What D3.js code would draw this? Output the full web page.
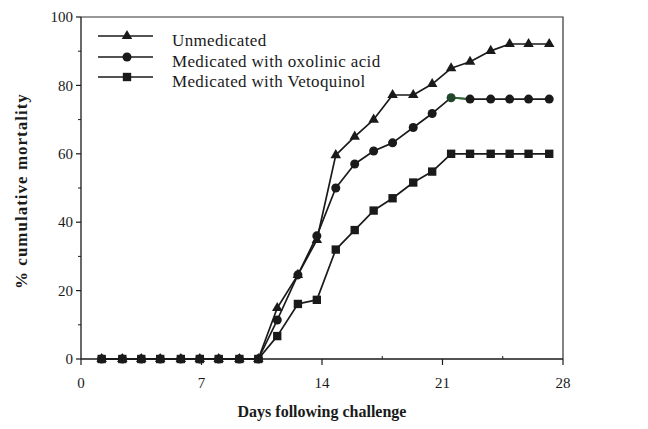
<!DOCTYPE html>
<html>
<head>
<meta charset="utf-8">
<script src="https://cdn.jsdelivr.net/npm/d3@7"></script>
<style>
  body { margin: 0; background: #fff; }
  svg { display: block; }
  text { font-family: "Liberation Serif", "Times New Roman", serif; fill: #1a1a1a; }
</style>
</head>
<body>
<svg id="chart" width="648" height="429"></svg>
<script>
// days at which each point was plotted
var days = [1.2, 2.4, 3.5, 4.6, 5.8, 6.9, 8.0, 9.2, 10.3, 11.4, 12.6, 13.7,
            14.8, 15.9, 17.0, 18.1, 19.3, 20.4, 21.5, 22.6, 23.8, 24.9, 26.0, 27.2];

var unmedicated = [0, 0, 0, 0, 0, 0, 0, 0, 0, 14.9, 24.6, 34.8,
                   59.6, 65, 70, 77.2, 77.2, 80.4, 85, 86.9, 90.1, 92.1, 92.1, 92.1];
var oxolinic = [0, 0, 0, 0, 0, 0, 0, 0, 0, 11.4, 24.6, 36,
                50, 57, 60.8, 63.2, 67.7, 71.8, 76.4, 76, 76, 76, 76, 76];
var vetoquinol = [0, 0, 0, 0, 0, 0, 0, 0, 0, 6.7, 16.1, 17.3,
                  32, 37.7, 43.4, 47, 51.6, 54.8, 60, 60, 60, 60, 60, 60];

var xTicks = [0, 7, 14, 21, 28];
var yTicks = [0, 20, 40, 60, 80, 100];

var seriesNames = ["Unmedicated", "Medicated with oxolinic acid", "Medicated with Vetoquinol"];
var seriesValues = [unmedicated, oxolinic, vetoquinol];
var seriesSymbols = [d3.symbolTriangle, d3.symbolCircle, d3.symbolSquare];
var symbolSizes = [48, 64, 70];

var svg = d3.select("#chart");

var x = d3.scaleLinear().domain([0, 28]).range([81, 563]);
var y = d3.scaleLinear().domain([0, 100]).range([359, 17]);

var ink = "#1a1a1a";

// frame (top and right edges)
svg.append("path")
    .attr("d", "M" + x(0) + "," + y(100) + "H" + x(28) + "V" + y(0))
    .attr("fill", "none")
    .attr("stroke", "#333")
    .attr("stroke-width", 1.2);

// y axis
var yAxis = svg.append("g").attr("transform", "translate(" + x(0) + ",0)");
yAxis.append("line").attr("y1", y(0)).attr("y2", y(100)).attr("stroke", ink).attr("stroke-width", 1.3);
yAxis.selectAll(".minor")
    .data(d3.range(10, 100, 20))
    .enter().append("line")
    .attr("x1", -3).attr("x2", 0)
    .attr("y1", d => y(d)).attr("y2", d => y(d))
    .attr("stroke", ink);
yAxis.selectAll(".major")
    .data(yTicks)
    .enter().append("line")
    .attr("x1", -5).attr("x2", 0)
    .attr("y1", d => y(d)).attr("y2", d => y(d))
    .attr("stroke", ink).attr("stroke-width", 1.2);
yAxis.selectAll(".lab")
    .data(yTicks)
    .enter().append("text")
    .attr("x", -8)
    .attr("y", d => y(d))
    .attr("dy", "0.35em")
    .attr("text-anchor", "end")
    .style("font-size", "15px")
    .text(d => d);

// x axis
var xAxis = svg.append("g").attr("transform", "translate(0," + y(0) + ")");
xAxis.append("line").attr("x1", x(0)).attr("x2", x(28)).attr("stroke", ink).attr("stroke-width", 1.3);
xAxis.selectAll(".minor")
    .data([3.5, 10.5, 17.5, 24.5])
    .enter().append("line")
    .attr("x1", d => x(d)).attr("x2", d => x(d))
    .attr("y1", -3).attr("y2", 0)
    .attr("stroke", ink);
xAxis.selectAll(".major")
    .data(xTicks)
    .enter().append("line")
    .attr("x1", d => x(d)).attr("x2", d => x(d))
    .attr("y1", 0).attr("y2", 6)
    .attr("stroke", ink).attr("stroke-width", 1.2);
xAxis.selectAll(".lab")
    .data(xTicks)
    .enter().append("text")
    .attr("x", d => x(d))
    .attr("y", 29)
    .attr("text-anchor", "middle")
    .style("font-size", "15px")
    .text(d => d);

// axis titles
svg.append("text")
    .attr("x", 322).attr("y", 417)
    .attr("text-anchor", "middle")
    .style("font-size", "16px")
    .style("font-weight", "bold")
    .text("Days following challenge");

svg.append("text")
    .attr("transform", "translate(27,191) rotate(-90)")
    .attr("text-anchor", "middle")
    .style("font-size", "17px")
    .style("font-weight", "bold")
    .style("letter-spacing", "1px")
    .text("% cumulative mortality");

// series lines + markers
var line = d3.line()
    .x((d, i) => x(days[i]))
    .y(d => y(d));

seriesValues.forEach(function(vals, s) {
    svg.append("path")
        .datum(vals)
        .attr("d", line)
        .attr("fill", "none")
        .attr("stroke", ink)
        .attr("stroke-width", 1.7)
        .attr("stroke-linejoin", "round");
});

// the greenish segment / point on the oxolinic series in the scan
svg.append("line")
    .attr("x1", x(days[18])).attr("y1", y(oxolinic[18]))
    .attr("x2", x(days[19])).attr("y2", y(oxolinic[19]))
    .attr("stroke", "#2e6b36").attr("stroke-width", 1.8);

seriesValues.forEach(function(vals, s) {
    svg.append("g").selectAll("path")
        .data(vals)
        .enter().append("path")
        .attr("transform", (d, i) => "translate(" + x(days[i]) + "," + y(d) + ")")
        .attr("d", d3.symbol().type(seriesSymbols[s]).size(symbolSizes[s]))
        .attr("fill", (d, i) => (s === 1 && i === 18) ? "#22472a" : ink);
});

// legend
var legend = svg.append("g");
var legendY = [36, 57, 77];
seriesNames.forEach(function(name, s) {
    legend.append("line")
        .attr("x1", 98).attr("x2", 153)
        .attr("y1", legendY[s]).attr("y2", legendY[s])
        .attr("stroke", ink).attr("stroke-width", 1.7);
    legend.append("path")
        .attr("transform", "translate(127," + legendY[s] + ")")
        .attr("d", d3.symbol().type(seriesSymbols[s]).size(symbolSizes[s]))
        .attr("fill", ink);
    legend.append("text")
        .attr("x", 172).attr("y", legendY[s] + 9.5)
        .style("font-size", "17px")
        .style("letter-spacing", "0.35px")
        .text(name);
});
</script>
</body>
</html>
